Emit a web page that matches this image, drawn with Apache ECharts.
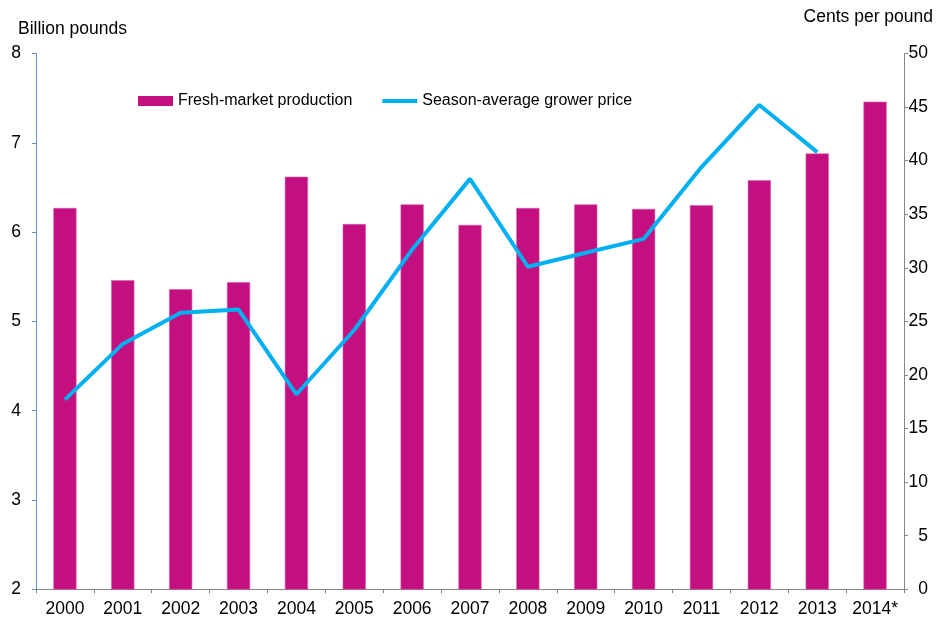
<!DOCTYPE html>
<html>
<head>
<meta charset="utf-8">
<script src="https://cdn.jsdelivr.net/npm/echarts@6/dist/echarts.min.js"></script>
<style>
  html, body { margin: 0; padding: 0; background: #fff; }
  #chart { width: 938px; height: 621px; }
</style>
</head>
<body>
<div id="chart"></div>
<script>
// 数据
var years = ['2000', '2001', '2002', '2003', '2004', '2005', '2006', '2007',
  '2008', '2009', '2010', '2011', '2012', '2013', '2014*'];
var production = [6.27, 5.46, 5.36, 5.44, 6.62, 6.09, 6.31, 6.08, 6.27, 6.31, 6.26, 6.30, 6.58, 6.88, 7.46];
var price = [17.7, 22.9, 25.8, 26.1, 18.2, 24.2, 31.7, 38.3, 30.1, 31.4, 32.7, 39.4, 45.2, 40.8, null];

var FONT = '"Liberation Sans", Arial, sans-serif';
var barColor = '#c30f80';
var lineColor = '#00b0f0';

var myChart = echarts.init(document.getElementById('chart'));

var option = {
  backgroundColor: '#fff',
  animation: false,
  textStyle: { fontFamily: FONT, color: '#000' },
  grid: {
    top: 53.5,
    left: 36,
    right: 34,
    bottom: 31.7
  },
  legend: {
    top: 88,
    left: 133,
    itemGap: 30,
    textStyle: { fontSize: 16, color: '#000', fontFamily: FONT },
    data: [
      {
        name: 'Fresh-market production',
        icon: 'rect',
        itemStyle: { color: barColor, borderWidth: 0 }
      },
      {
        name: 'Season-average grower price',
        icon: 'path://M0,0 L36,0 L36,4 L0,4 Z',
        itemStyle: { color: lineColor, borderWidth: 0 }
      }
    ],
    itemWidth: 35,
    itemHeight: 10
  },
  graphic: [
    {
      type: 'text', left: 18, top: 20,
      style: { text: 'Billion pounds', font: '17.5px ' + FONT, fill: '#000' }
    },
    {
      type: 'text', right: 5, top: 8,
      style: { text: 'Cents per pound', font: '17.5px ' + FONT, fill: '#000' }
    }
  ],
  xAxis: {
    type: 'category',
    data: years,
    axisLine: { lineStyle: { color: '#868686', width: 1 } },
    axisTick: { show: true, length: 4, lineStyle: { color: '#868686' } },
    axisLabel: { interval: 0, fontSize: 17.5, color: '#000', margin: 11, fontFamily: FONT }
  },
  yAxis: [
    {
      type: 'value',
      min: 2,
      max: 8,
      interval: 1,
      splitLine: { show: false },
      axisLine: { show: true, lineStyle: { color: '#5f8fd0', width: 1 } },
      axisTick: { show: true, length: 4, lineStyle: { color: '#5f8fd0' } },
      axisLabel: { fontSize: 17.5, color: '#000', margin: 15, fontFamily: FONT }
    },
    {
      type: 'value',
      min: 0,
      max: 50,
      interval: 5,
      position: 'right',
      splitLine: { show: false },
      axisLine: { show: true, lineStyle: { color: '#868686', width: 1 } },
      axisTick: { show: true, length: 4, lineStyle: { color: '#868686' } },
      axisLabel: { fontSize: 17.5, color: '#000', margin: 24, align: 'right', fontFamily: FONT }
    }
  ],
  series: [
    {
      name: 'Fresh-market production',
      type: 'bar',
      data: production,
      barWidth: '40%',
      itemStyle: { color: barColor, borderColor: '#d65aa8', borderWidth: 0.6 }
    },
    {
      name: 'Season-average grower price',
      type: 'line',
      yAxisIndex: 1,
      data: price,
      symbol: 'none',
      connectNulls: false,
      lineStyle: { color: lineColor, width: 4 },
      itemStyle: { color: lineColor }
    }
  ]
};

myChart.setOption(option);
</script>
</body>
</html>
